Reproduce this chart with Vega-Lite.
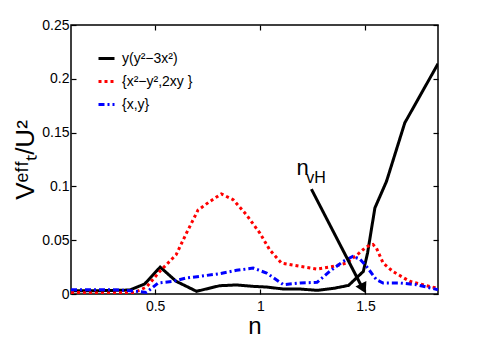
{
  "$schema": "https://vega.github.io/schema/vega-lite/v6.json",
  "width": 367,
  "height": 269,
  "autosize": "none",
  "padding": {"left": 71, "top": 25, "right": 47, "bottom": 44},
  "background": "white",
  "config": {
    "view": {"stroke": "black", "strokeWidth": 1.5},
    "font": "Liberation Sans",
    "axis": {"grid": false, "domain": false, "tickColor": "black", "tickSize": -5, "tickWidth": 1.2, "labelColor": "black", "labelFontSize": 14, "labelFont": "Liberation Sans", "titleFont": "Liberation Sans", "titleFontWeight": "normal", "titleColor": "black"}
  },
  "datasets": {
    "curves": [
      {"series": "y(y²−3x²)", "n": 0.1, "v": 0.003},
      {"series": "y(y²−3x²)", "n": 0.2, "v": 0.003},
      {"series": "y(y²−3x²)", "n": 0.3, "v": 0.0033},
      {"series": "y(y²−3x²)", "n": 0.38, "v": 0.0037},
      {"series": "y(y²−3x²)", "n": 0.45, "v": 0.0093},
      {"series": "y(y²−3x²)", "n": 0.524, "v": 0.025},
      {"series": "y(y²−3x²)", "n": 0.6, "v": 0.0118},
      {"series": "y(y²−3x²)", "n": 0.697, "v": 0.0025},
      {"series": "y(y²−3x²)", "n": 0.807, "v": 0.0077},
      {"series": "y(y²−3x²)", "n": 0.887, "v": 0.0084},
      {"series": "y(y²−3x²)", "n": 0.966, "v": 0.0071},
      {"series": "y(y²−3x²)", "n": 1.03, "v": 0.0065},
      {"series": "y(y²−3x²)", "n": 1.11, "v": 0.0046},
      {"series": "y(y²−3x²)", "n": 1.19, "v": 0.0046},
      {"series": "y(y²−3x²)", "n": 1.27, "v": 0.0034},
      {"series": "y(y²−3x²)", "n": 1.35, "v": 0.0053},
      {"series": "y(y²−3x²)", "n": 1.42, "v": 0.008},
      {"series": "y(y²−3x²)", "n": 1.49, "v": 0.021},
      {"series": "y(y²−3x²)", "n": 1.51, "v": 0.038},
      {"series": "y(y²−3x²)", "n": 1.545, "v": 0.08},
      {"series": "y(y²−3x²)", "n": 1.6, "v": 0.1046},
      {"series": "y(y²−3x²)", "n": 1.687, "v": 0.159},
      {"series": "y(y²−3x²)", "n": 1.845, "v": 0.214},
      {"series": "{x²−y²,2xy }", "n": 0.1, "v": 0.0015},
      {"series": "{x²−y²,2xy }", "n": 0.2, "v": 0.001},
      {"series": "{x²−y²,2xy }", "n": 0.3, "v": 0.001},
      {"series": "{x²−y²,2xy }", "n": 0.4, "v": 0.0012},
      {"series": "{x²−y²,2xy }", "n": 0.459, "v": 0.0065},
      {"series": "{x²−y²,2xy }", "n": 0.522, "v": 0.021},
      {"series": "{x²−y²,2xy }", "n": 0.6, "v": 0.0365},
      {"series": "{x²−y²,2xy }", "n": 0.649, "v": 0.0566},
      {"series": "{x²−y²,2xy }", "n": 0.704, "v": 0.078},
      {"series": "{x²−y²,2xy }", "n": 0.76, "v": 0.086},
      {"series": "{x²−y²,2xy }", "n": 0.815, "v": 0.093},
      {"series": "{x²−y²,2xy }", "n": 0.871, "v": 0.0876},
      {"series": "{x²−y²,2xy }", "n": 0.934, "v": 0.0736},
      {"series": "{x²−y²,2xy }", "n": 0.998, "v": 0.0566},
      {"series": "{x²−y²,2xy }", "n": 1.045, "v": 0.041},
      {"series": "{x²−y²,2xy }", "n": 1.1, "v": 0.0288},
      {"series": "{x²−y²,2xy }", "n": 1.19, "v": 0.0257},
      {"series": "{x²−y²,2xy }", "n": 1.27, "v": 0.0232},
      {"series": "{x²−y²,2xy }", "n": 1.35, "v": 0.0257},
      {"series": "{x²−y²,2xy }", "n": 1.41, "v": 0.0288},
      {"series": "{x²−y²,2xy }", "n": 1.47, "v": 0.038},
      {"series": "{x²−y²,2xy }", "n": 1.505, "v": 0.044},
      {"series": "{x²−y²,2xy }", "n": 1.536, "v": 0.046},
      {"series": "{x²−y²,2xy }", "n": 1.552, "v": 0.0427},
      {"series": "{x²−y²,2xy }", "n": 1.584, "v": 0.0288},
      {"series": "{x²−y²,2xy }", "n": 1.63, "v": 0.021},
      {"series": "{x²−y²,2xy }", "n": 1.71, "v": 0.0118},
      {"series": "{x²−y²,2xy }", "n": 1.79, "v": 0.0077},
      {"series": "{x²−y²,2xy }", "n": 1.845, "v": 0.0053},
      {"series": "{x,y}", "n": 0.1, "v": 0.004},
      {"series": "{x,y}", "n": 0.2, "v": 0.004},
      {"series": "{x,y}", "n": 0.3, "v": 0.004},
      {"series": "{x,y}", "n": 0.4, "v": 0.0028},
      {"series": "{x,y}", "n": 0.459, "v": 0.0015},
      {"series": "{x,y}", "n": 0.514, "v": 0.0102},
      {"series": "{x,y}", "n": 0.586, "v": 0.0118},
      {"series": "{x,y}", "n": 0.649, "v": 0.0149},
      {"series": "{x,y}", "n": 0.712, "v": 0.0164},
      {"series": "{x,y}", "n": 0.807, "v": 0.0189},
      {"series": "{x,y}", "n": 0.887, "v": 0.022},
      {"series": "{x,y}", "n": 0.966, "v": 0.0241},
      {"series": "{x,y}", "n": 1.03, "v": 0.0195},
      {"series": "{x,y}", "n": 1.11, "v": 0.0087},
      {"series": "{x,y}", "n": 1.19, "v": 0.0102},
      {"series": "{x,y}", "n": 1.27, "v": 0.0108},
      {"series": "{x,y}", "n": 1.33, "v": 0.021},
      {"series": "{x,y}", "n": 1.394, "v": 0.0303},
      {"series": "{x,y}", "n": 1.44, "v": 0.035},
      {"series": "{x,y}", "n": 1.473, "v": 0.0325},
      {"series": "{x,y}", "n": 1.505, "v": 0.0257},
      {"series": "{x,y}", "n": 1.552, "v": 0.0133},
      {"series": "{x,y}", "n": 1.584, "v": 0.0102},
      {"series": "{x,y}", "n": 1.663, "v": 0.0102},
      {"series": "{x,y}", "n": 1.742, "v": 0.0087},
      {"series": "{x,y}", "n": 1.845, "v": 0.004}
    ],
    "arrow": [
      {"n": 1.243, "v": 0.0975},
      {"n": 1.49, "v": 0.004}
    ],
    "arrowhead": [
      {"n": 1.49, "v": 0.0052}
    ],
    "label_main": [
      {"n": 1.172, "v": 0.111, "label": "n"}
    ],
    "label_sub": [
      {"n": 1.219, "v": 0.103, "label": "vH"}
    ]
  },
  "layer": [
    {
      "data": {"name": "curves"},
      "mark": {"type": "line", "clip": true},
      "encoding": {
        "x": {"field": "n", "type": "quantitative", "scale": {"domain": [0.1, 1.845], "nice": false, "zero": false},
          "axis": {"orient": "bottom", "values": [0.5, 1, 1.5], "format": "~g", "title": "n", "titleFontSize": 24, "labelPadding": 10, "titlePadding": 1}},
        "y": {"field": "v", "type": "quantitative", "scale": {"domain": [0, 0.25], "nice": false},
          "axis": {"orient": "left", "values": [0, 0.05, 0.1, 0.15, 0.2, 0.25], "format": "~g", "title": "Vᵉᶠᶠₜ/U²", "titleFontSize": 26, "labelPadding": 7, "titlePadding": 3}},
        "color": {"field": "series", "type": "nominal",
          "scale": {"domain": ["y(y²−3x²)", "{x²−y²,2xy }", "{x,y}"], "range": ["#000000", "#ff0000", "#0000ff"]},
          "legend": {"orient": "none", "legendX": 26, "legendY": 24, "title": null, "symbolType": "stroke", "symbolSize": 256, "symbolStrokeWidth": 3, "labelFontSize": 14, "rowPadding": 6, "labelOffset": 6, "labelColor": "black"}},
        "strokeDash": {"field": "series", "type": "nominal",
          "scale": {"domain": ["y(y²−3x²)", "{x²−y²,2xy }", "{x,y}"], "range": [[1, 0], [3, 3], [6, 3, 2, 3]]},
          "legend": {"orient": "none", "legendX": 26, "legendY": 24, "title": null, "symbolType": "stroke", "symbolSize": 256, "symbolStrokeWidth": 3, "labelFontSize": 14, "rowPadding": 6, "labelOffset": 6, "labelColor": "black"}},
        "strokeWidth": {"field": "series", "type": "nominal",
          "scale": {"domain": ["y(y²−3x²)", "{x²−y²,2xy }", "{x,y}"], "range": [3, 3, 2.5]},
          "legend": null}
      }
    },
    {
      "data": {"name": "arrow"},
      "mark": {"type": "line", "color": "black", "strokeWidth": 3},
      "encoding": {
        "x": {"field": "n", "type": "quantitative", "axis": {"orient": "top", "values": [0.5, 1, 1.5], "labels": false, "title": null}},
        "y": {"field": "v", "type": "quantitative", "axis": {"orient": "right", "values": [0, 0.05, 0.1, 0.15, 0.2, 0.25], "labels": false, "title": null}}
      }
    },
    {
      "data": {"name": "arrowhead"},
      "mark": {"type": "point", "shape": "triangle-up", "filled": true, "color": "black", "opacity": 1, "size": 150, "angle": 153},
      "encoding": {
        "x": {"field": "n", "type": "quantitative", "axis": null},
        "y": {"field": "v", "type": "quantitative", "axis": null}
      }
    },
    {
      "data": {"name": "label_main"},
      "mark": {"type": "text", "fontSize": 22, "align": "left", "baseline": "alphabetic", "color": "black", "font": "Liberation Sans"},
      "encoding": {
        "x": {"field": "n", "type": "quantitative", "axis": null},
        "y": {"field": "v", "type": "quantitative", "axis": null},
        "text": {"field": "label"}
      }
    },
    {
      "data": {"name": "label_sub"},
      "mark": {"type": "text", "fontSize": 16, "align": "left", "baseline": "alphabetic", "color": "black", "font": "Liberation Sans"},
      "encoding": {
        "x": {"field": "n", "type": "quantitative", "axis": null},
        "y": {"field": "v", "type": "quantitative", "axis": null},
        "text": {"field": "label"}
      }
    }
  ],
  "resolve": {"axis": {"x": "independent", "y": "independent"}}
}
